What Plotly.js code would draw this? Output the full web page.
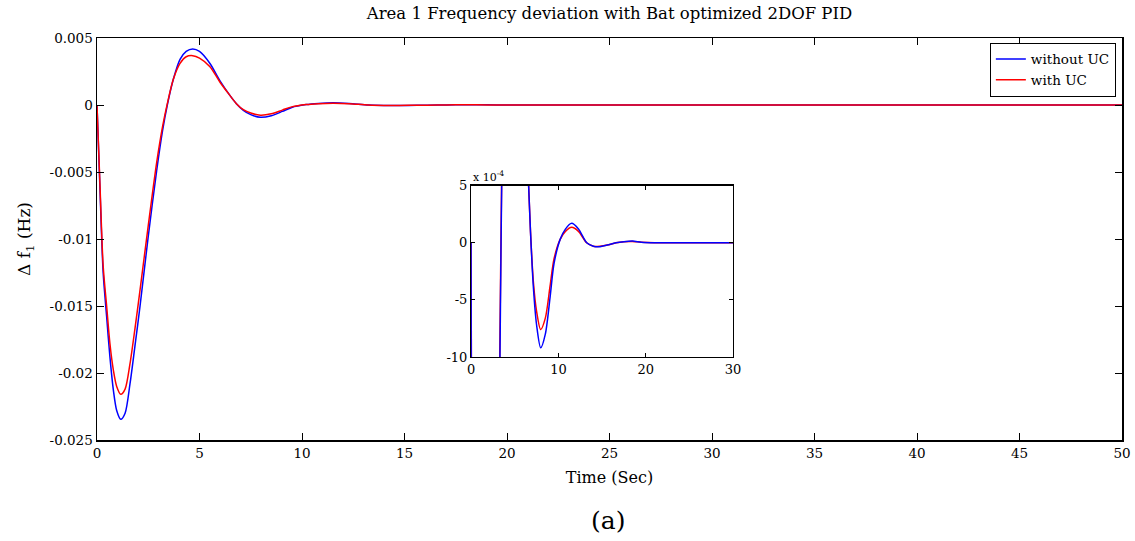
<!DOCTYPE html>
<html>
<head>
<meta charset="utf-8">
<script src="https://cdn.plot.ly/plotly-3.0.1.min.js"></script>
<style>html,body{margin:0;padding:0;background:#fff;}#chart{width:1135px;height:541px;}</style>
</head>
<body>
<div id="chart"></div>
<script>
// Time samples (s)
const timeSec = [0, 0.15, 0.3, 0.47, 0.63, 0.8, 0.96, 1.16, 1.37, 1.61, 1.85, 2.1, 2.5, 2.91, 3.2, 3.43, 3.72, 4.05, 4.35, 4.67, 5.0, 5.51, 6.0, 6.49, 6.8, 7.14, 7.5, 7.97, 8.5, 9.04, 9.5, 10.2, 10.8, 11.52, 12.3, 13.24, 14.0, 14.76, 15.6, 16.6, 17.5, 18.5, 19.5, 21, 25, 30, 40, 50];
// Delta f1 (Hz) without UC (blue)
const withoutUC = [0, -0.0065, -0.0125, -0.0158, -0.0188, -0.0213, -0.0228, -0.02346, -0.0230, -0.0208, -0.0180, -0.0150, -0.0098, -0.0049, -0.0019, 0, 0.0019, 0.0034, 0.0040, 0.00418, 0.0040, 0.0031, 0.0018, 0.0007, 0.0001, -0.0004, -0.00072, -0.00092, -0.00080, -0.00048, -0.00018, 0.00003, 0.00012, 0.00017, 0.00012, 0, -0.00003, -0.000035, -0.00002, 0, 0.00001, 0.000015, 0.000005, 0, 0, 0, 0, 0];
// Delta f1 (Hz) with UC (red)
const withUC = [0, -0.0062, -0.0120, -0.0150, -0.0178, -0.0198, -0.0210, -0.02159, -0.0212, -0.0193, -0.0167, -0.0138, -0.0090, -0.0043, -0.0016, 0.0001, 0.0019, 0.0031, 0.0036, 0.00368, 0.0035, 0.00286, 0.0017, 0.0007, 0.0001, -0.00035, -0.0006, -0.00076, -0.00066, -0.00038, -0.00014, 0.00003, 0.0001, 0.000135, 0.0001, 0, -0.00003, -0.00003, -0.00002, 0, 0.00001, 0.000012, 0.000005, 0, 0, 0, 0, 0];

const seriesNames = ['without UC', 'with UC'];
const mainYTickVals = [0.005, 0, -0.005, -0.01, -0.015, -0.02, -0.025];
const mainYTickText = ['0.005', '0', '-0.005', '-0.01', '-0.015', '-0.02', '-0.025'];
const mainXTickVals = [0, 5, 10, 15, 20, 25, 30, 35, 40, 45, 50];
const insetYTickVals = [0.0005, 0, -0.0005, -0.001];
const insetYTickText = ['5', '0', '-5', '-10'];
const insetXTickVals = [0, 10, 20, 30];

const serif = 'DejaVu Serif, serif';
const blue = '#0000ff', red = '#ff0000';

const traces = [
  {x: timeSec, y: withoutUC, name: seriesNames[0], type: 'scatter', mode: 'lines',
   line: {color: blue, width: 1.5, shape: 'spline', smoothing: 0.8}, xaxis: 'x', yaxis: 'y'},
  {x: timeSec, y: withUC, name: seriesNames[1], type: 'scatter', mode: 'lines',
   line: {color: red, width: 1.5, shape: 'spline', smoothing: 0.8}, xaxis: 'x', yaxis: 'y'},
  {x: timeSec, y: withUC, name: seriesNames[1], type: 'scatter', mode: 'lines', showlegend: false,
   line: {color: red, width: 1.5, shape: 'spline', smoothing: 0.8}, xaxis: 'x2', yaxis: 'y2'},
  {x: timeSec, y: withoutUC, name: seriesNames[0], type: 'scatter', mode: 'lines', showlegend: false,
   line: {color: blue, width: 1.5, shape: 'spline', smoothing: 0.8}, xaxis: 'x2', yaxis: 'y2'}
];

const axBase = {
  showgrid: false, zeroline: false, showline: true, linecolor: '#000', linewidth: 1.5,
  mirror: 'ticks', ticks: 'inside', tickcolor: '#000', tickwidth: 1,
  tickfont: {family: serif, size: 13.5, color: '#000'}
};

const layout = {
  width: 1135, height: 541,
  margin: {l: 97, r: 13, t: 38, b: 101},
  paper_bgcolor: '#fff', plot_bgcolor: '#fff',
  title: {text: 'Area 1 Frequency deviation with Bat optimized 2DOF PID',
          font: {family: serif, size: 16.5, color: '#000'}, x: 0.537, xanchor: 'center', y: 0.976, yanchor: 'middle'},
  showlegend: true,
  legend: {x: 0.994, xanchor: 'right', y: 0.988, yanchor: 'top', bgcolor: '#fff',
           bordercolor: '#000', borderwidth: 1, font: {family: serif, size: 13.5, color: '#000'},
           tracegroupgap: 0},
  xaxis: Object.assign({}, axBase, {range: [0, 50], tickvals: mainXTickVals, ticklen: 7,
           title: {text: 'Time (Sec)', font: {family: serif, size: 16, color: '#000'}, standoff: 12}}),
  yaxis: Object.assign({}, axBase, {range: [-0.025, 0.005], tickvals: mainYTickVals, ticktext: mainYTickText, ticklen: 7,
           title: {text: 'Δ f<sub>1</sub> (Hz)', font: {family: serif, size: 17, color: '#000'}, standoff: 14}}),
  xaxis2: Object.assign({}, axBase, {domain: [0.365, 0.6205], anchor: 'y2', range: [0, 30], tickvals: insetXTickVals, ticklen: 4,
           linewidth: 1.2, tickfont: {family: serif, size: 13, color: '#000'}}),
  yaxis2: Object.assign({}, axBase, {domain: [0.2065, 0.6326], anchor: 'x2', range: [-0.001, 0.0005],
           tickvals: insetYTickVals, ticktext: insetYTickText, ticklen: 4,
           linewidth: 1.2, tickfont: {family: serif, size: 13, color: '#000'}}),
  annotations: [
    {text: 'x 10<sup>-4</sup>', xref: 'paper', yref: 'paper', x: 0.365, y: 0.6326, xanchor: 'left', yanchor: 'bottom',
     showarrow: false, font: {family: serif, size: 11, color: '#000'}},
    {text: '(a)', xref: 'paper', yref: 'paper', x: 0.499, y: -0.2, xanchor: 'center', yanchor: 'middle',
     showarrow: false, font: {family: serif, size: 25, color: '#000'}}
  ]
};

Plotly.newPlot('chart', traces, layout, {displayModeBar: false, staticPlot: true});
</script>
</body>
</html>
